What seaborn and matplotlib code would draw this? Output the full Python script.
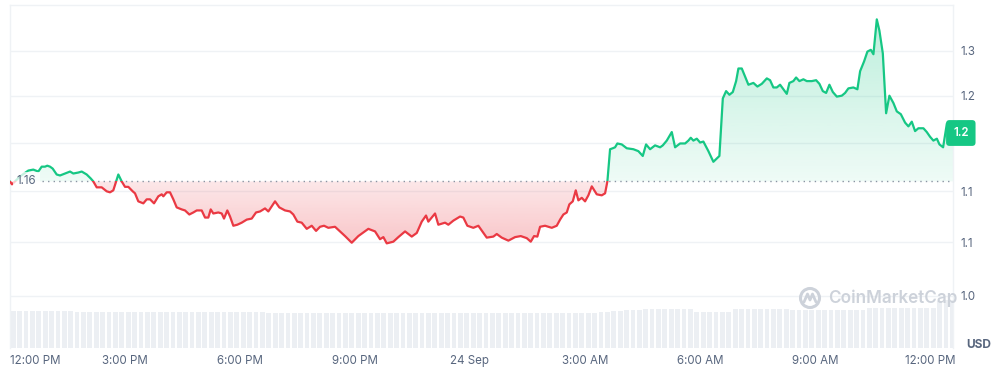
import numpy as np
import pandas as pd
import seaborn as sns
import matplotlib
matplotlib.use("Agg")
import matplotlib.pyplot as plt
from matplotlib.patches import Rectangle, Circle
from matplotlib.path import Path
from matplotlib.lines import Line2D
from matplotlib.transforms import IdentityTransform
from matplotlib.ticker import NullLocator

# ---------------- data ----------------
hours = [
    0.000, 0.052, 0.261, 0.477, 0.608, 0.738, 0.827, 0.913, 0.973, 1.044,
    1.114, 1.218, 1.305, 1.436, 1.566, 1.652, 1.782, 1.871, 2.001, 2.105,
    2.173, 2.262, 2.392, 2.523, 2.609, 2.695, 2.826, 2.914, 3.000, 3.086,
    3.201, 3.261, 3.347, 3.478, 3.566, 3.653, 3.757, 3.869, 3.958, 4.000,
    4.088, 4.174, 4.261, 4.349, 4.480, 4.566, 4.678, 4.782, 4.871, 5.001,
    5.088, 5.174, 5.236, 5.304, 5.435, 5.523, 5.583, 5.669, 5.740, 5.826,
    5.930, 6.045, 6.176, 6.306, 6.418, 6.523, 6.653, 6.739, 6.828, 6.914,
    7.026, 7.175, 7.305, 7.391, 7.496, 7.610, 7.741, 7.871, 7.984, 8.088,
    8.192, 8.304, 8.479, 8.565, 8.740, 8.915, 9.087, 9.348, 9.523, 9.653,
    9.740, 9.828, 10.000, 10.131, 10.306, 10.480, 10.611, 10.741, 10.853, 10.913,
    11.088, 11.174, 11.349, 11.435, 11.566, 11.741, 11.826, 11.931, 12.087, 12.218,
    12.437, 12.609, 12.698, 12.828, 13.001, 13.176, 13.324, 13.481, 13.585, 13.671,
    13.757, 13.828, 13.958, 14.133, 14.263, 14.350, 14.436, 14.524, 14.592, 14.681,
    14.759, 14.827, 14.916, 15.002, 15.088, 15.177, 15.307, 15.437, 15.524, 15.584,
    15.654, 15.724, 15.784, 15.844, 15.959, 16.089, 16.262, 16.392, 16.507, 16.593,
    16.698, 16.828, 16.959, 17.029, 17.133, 17.264, 17.350, 17.480, 17.611, 17.697,
    17.759, 17.827, 17.916, 18.002, 18.088, 18.219, 18.349, 18.506, 18.595, 18.681,
    18.767, 18.856, 18.942, 19.002, 19.090, 19.177, 19.263, 19.393, 19.497, 19.612,
    19.743, 19.828, 19.914, 20.003, 20.089, 20.175, 20.264, 20.332, 20.436, 20.507,
    20.593, 20.697, 20.786, 20.916, 21.029, 21.115, 21.204, 21.290, 21.376, 21.465,
    21.569, 21.699, 21.785, 21.871, 22.002, 22.106, 22.177, 22.281, 22.367, 22.456,
    22.524, 22.612, 22.680, 22.769, 22.855, 22.941, 23.046, 23.134, 23.239, 23.350,
    23.437, 23.525, 23.611, 23.697, 23.828, 23.916, 24.002, 24.088, 24.179, 24.247,
    24.342, 24.440, 24.525, 24.600,
]
prices = [
    1.1600, 1.1570, 1.1650, 1.1710, 1.1720, 1.1700, 1.1750, 1.1750, 1.1760, 1.1750,
    1.1730, 1.1670, 1.1660, 1.1680, 1.1700, 1.1680, 1.1690, 1.1700, 1.1670, 1.1630,
    1.1600, 1.1540, 1.1540, 1.1500, 1.1490, 1.1510, 1.1670, 1.1600, 1.1545, 1.1545,
    1.1500, 1.1480, 1.1400, 1.1380, 1.1420, 1.1420, 1.1380, 1.1450, 1.1470, 1.1450,
    1.1490, 1.1490, 1.1420, 1.1340, 1.1320, 1.1310, 1.1270, 1.1290, 1.1310, 1.1310,
    1.1240, 1.1240, 1.1320, 1.1280, 1.1290, 1.1280, 1.1230, 1.1310, 1.1250, 1.1160,
    1.1170, 1.1190, 1.1220, 1.1230, 1.1290, 1.1300, 1.1330, 1.1300, 1.1350, 1.1400,
    1.1340, 1.1310, 1.1300, 1.1270, 1.1200, 1.1190, 1.1130, 1.1160, 1.1110, 1.1150,
    1.1160, 1.1140, 1.1150, 1.1120, 1.1060, 1.0996, 1.1060, 1.1130, 1.1105, 1.1030,
    1.1050, 1.0990, 1.1006, 1.1050, 1.1105, 1.1055, 1.1090, 1.1200, 1.1260, 1.1200,
    1.1280, 1.1170, 1.1190, 1.1170, 1.1210, 1.1250, 1.1240, 1.1160, 1.1140, 1.1160,
    1.1045, 1.1055, 1.1080, 1.1045, 1.1016, 1.1050, 1.1060, 1.1040, 1.1006, 1.1060,
    1.1055, 1.1150, 1.1160, 1.1140, 1.1160, 1.1220, 1.1270, 1.1290, 1.1370, 1.1400,
    1.1510, 1.1410, 1.1435, 1.1400, 1.1460, 1.1550, 1.1470, 1.1460, 1.1480, 1.1600,
    1.1930, 1.1940, 1.1950, 1.1990, 1.1980, 1.1940, 1.1930, 1.1910, 1.1860, 1.1980,
    1.1930, 1.1970, 1.1950, 1.1970, 1.2020, 1.2110, 1.1950, 1.1990, 1.1990, 1.2020,
    1.2050, 1.2020, 1.2040, 1.2000, 1.2010, 1.1910, 1.1800, 1.1860, 1.2470, 1.2550,
    1.2510, 1.2540, 1.2660, 1.2800, 1.2800, 1.2710, 1.2620, 1.2640, 1.2600, 1.2630,
    1.2690, 1.2670, 1.2590, 1.2590, 1.2620, 1.2570, 1.2520, 1.2640, 1.2660, 1.2700,
    1.2660, 1.2680, 1.2660, 1.2660, 1.2670, 1.2630, 1.2550, 1.2530, 1.2620, 1.2540,
    1.2490, 1.2500, 1.2530, 1.2580, 1.2590, 1.2570, 1.2770, 1.2880, 1.2990, 1.3010,
    1.2960, 1.3360, 1.3230, 1.2970, 1.2310, 1.2500, 1.2420, 1.2330, 1.2300, 1.2210,
    1.2170, 1.2220, 1.2120, 1.2150, 1.2150, 1.2110, 1.2060, 1.2020, 1.2040, 1.1980,
    1.1950, 1.2200, 1.2140, 1.2100,
]
# 10-minute volume bars (relative units)
volumes = [
    4.00, 4.00, 4.00, 4.00, 4.00, 4.00, 4.00, 4.00, 4.00, 4.00,
    3.88, 3.88, 3.88, 3.88, 3.88, 3.88, 3.88, 3.88, 3.88, 3.88,
    3.88, 3.88, 3.88, 3.88, 3.88, 3.88, 3.88, 3.88, 3.88, 3.88,
    3.88, 3.88, 3.88, 3.88, 3.88, 3.88, 3.88, 3.88, 3.88, 3.88,
    3.78, 3.78, 3.78, 3.78, 3.78, 3.78, 3.78, 3.78, 3.78, 3.78,
    3.78, 3.78, 3.78, 3.78, 3.78, 3.78, 3.78, 3.78, 3.78, 3.78,
    3.78, 3.78, 3.78, 3.78, 3.78, 3.78, 3.78, 3.78, 3.78, 3.78,
    3.78, 3.78, 3.78, 3.78, 3.78, 3.78, 3.78, 3.78, 3.78, 3.78,
    3.78, 3.78, 3.78, 3.78, 3.78, 3.78, 3.78, 3.78, 3.78, 3.78,
    3.78, 3.80, 3.85, 3.90, 3.95, 4.00, 4.05, 4.10, 4.15, 4.18,
    4.18, 4.18, 4.18, 4.18, 4.18, 4.18, 4.18, 3.83, 3.83, 3.83,
    3.83, 3.92, 3.92, 4.18, 4.18, 4.18, 4.18, 4.18, 4.18, 4.18,
    4.18, 4.18, 4.05, 4.05, 4.05, 4.05, 4.05, 4.05, 4.05, 4.05,
    4.05, 4.05, 4.05, 4.05, 4.28, 4.28, 4.28, 4.28, 4.28, 4.28,
    4.28, 4.28, 4.28, 4.28, 4.28, 5.10, 5.15, 5.20,
]
open_price = 1.16
last_label = "1.2"
y_ticks = [1.05, 1.10, 1.15, 1.20, 1.25, 1.30]
y_tick_labels = ["1.0", "1.1", "1.1", "1.2", "1.2", "1.3"]
x_ticks = [0, 3, 6, 9, 12, 15, 18, 21, 24]
x_tick_labels = ["12:00 PM", "3:00 PM", "6:00 PM", "9:00 PM", "24 Sep",
                 "3:00 AM", "6:00 AM", "9:00 AM", "12:00 PM"]

# ---------------- style ----------------
GREEN = "#16c784"
RED = "#ea3943"
TXT = "#58667e"
GRID = "#eff2f5"
VOLC = "#eceff3"
WM = "#cdd2da"
FS = 8.3

sns.set_style("white")
plt.rcParams["font.family"] = ["Inter", "DejaVu Sans"]

W, H = 994, 371
fig = plt.figure(figsize=(W / 100, H / 100), dpi=100)
rect = [10 / W, 1 - 348 / H, 943 / W, 343 / H]
axv = fig.add_axes(rect, zorder=0)
ax = fig.add_axes(rect, zorder=1)
ax.patch.set_visible(False)

XMAX = 24.60
YLO, YHI = 1.00317, 1.35285

# ---- volume bars ----
vol_t = np.arange(len(volumes)) / 6 + 1 / 12
axv.bar(vol_t, volumes, width=0.125, color=VOLC, linewidth=0)
axv.set_ylim(0, 37)
axv.set_xlim(0, XMAX)
axv.set_yticks([])
axv.set_xticks([])
axv.xaxis.set_visible(False)
axv.yaxis.set_visible(False)
for s in axv.spines.values():
    s.set_visible(False)

# ---- price axes ----
ax.set_yscale("log")
ax.set_xlim(0, XMAX)
ax.set_ylim(YLO, YHI)
ax.set_autoscale_on(False)

df = pd.DataFrame({"hour": hours, "price": prices})
p = np.asarray(prices)
t = np.asarray(hours)


def frac(v):
    return (np.log(v) - np.log(YLO)) / (np.log(YHI) - np.log(YLO))


f_base = frac(open_price)


def gradient(rgb, fp_lo, fp_hi, a_lo, a_hi, clip_path):
    n = 400
    f = np.linspace(1, 0, n)
    a = np.interp(f, [fp_lo, fp_hi], [a_lo, a_hi])
    img = np.zeros((n, 1, 4))
    img[:, 0, 0] = rgb[0]
    img[:, 0, 1] = rgb[1]
    img[:, 0, 2] = rgb[2]
    img[:, 0, 3] = a
    im = ax.imshow(img, extent=[0, 1, 0, 1], transform=ax.transAxes,
                   aspect="auto", interpolation="bilinear", zorder=1)
    im.set_clip_path(clip_path, ax.transData)
    return im


up = ax.fill_between(t, p, open_price, where=p >= open_price, interpolate=True)
dn = ax.fill_between(t, p, open_price, where=p <= open_price, interpolate=True)
up_path = Path.make_compound_path(*up.get_paths())
dn_path = Path.make_compound_path(*dn.get_paths())
up.remove()
dn.remove()

gradient((22 / 255, 199 / 255, 132 / 255), f_base, 0.96, 0.07, 0.28, up_path)
gradient((234 / 255, 57 / 255, 67 / 255), 0.30, f_base, 0.29, 0.12, dn_path)
ax.set_xlim(0, XMAX)
ax.set_ylim(YLO, YHI)

# price line: green above open price, red below
sns.lineplot(data=df, x="hour", y="price", ax=ax, color=GREEN, linewidth=1.6,
             zorder=3, sort=False)
line_up = ax.lines[-1]
sns.lineplot(data=df, x="hour", y="price", ax=ax, color=RED, linewidth=1.6,
             zorder=3, sort=False)
line_dn = ax.lines[-1]
clip_up = Rectangle((0, open_price), 1, 1.0, transform=ax.get_yaxis_transform())
clip_dn = Rectangle((0, 0.5), 1, open_price - 0.5, transform=ax.get_yaxis_transform())
line_up.set_clip_path(clip_up)
line_dn.set_clip_path(clip_dn)

# dotted open price line
ax.axhline(open_price, xmin=0.034, xmax=1, color="#8a94a3", lw=1,
           ls=(0, (1, 3)), zorder=2)
ax.text(0.17, open_price, f"{open_price:.2f}", ha="left", va="center",
        color=TXT, fontsize=FS, zorder=5,
        bbox=dict(boxstyle="square,pad=0.3", fc="white", ec="none", alpha=0.75))

# axes decoration
ax.set_xlabel("")
ax.set_ylabel("")
ax.yaxis.tick_right()
ax.set_yticks(y_ticks)
ax.set_yticklabels(y_tick_labels)
ax.yaxis.set_minor_locator(NullLocator())
ax.set_xticks(x_ticks)
ax.set_xticklabels(x_tick_labels)
ax.tick_params(axis="y", length=0, pad=5, labelsize=FS, labelcolor=TXT)
ax.tick_params(axis="x", length=0, pad=5, labelsize=FS, labelcolor=TXT)
ax.get_xticklabels()[0].set_ha("left")
# the 1.20 label sits underneath the last-price badge, as in the reference
ax.get_yticklabels()[3].set_visible(False)
ax.grid(axis="y", color=GRID, lw=1)
ax.grid(axis="x", visible=False)
ax.set_axisbelow(True)
for name, s in ax.spines.items():
    s.set_color(GRID)
    s.set_linewidth(1)
ax.spines["bottom"].set_visible(False)
ax.set_xlim(0, XMAX)
ax.set_ylim(YLO, YHI)

# last price badge
ax.text(1.0, prices[-1], last_label, transform=ax.get_yaxis_transform(),
        ha="left", va="center", color="white", fontsize=FS, fontweight="semibold",
        clip_on=False, zorder=10,
        bbox=dict(boxstyle="round,pad=0.6,rounding_size=0.3", fc=GREEN, ec="none"))

# USD unit
fig.text(966 / W, 1 - 345 / H, "USD", ha="left", va="center", color=TXT,
         fontsize=8.6, fontweight="bold")

# watermark
fig.text(828 / W, 1 - 298 / H, "CoinMarketCap", ha="left", va="center",
         color=WM, fontsize=12.3, fontweight="semibold", zorder=6)
ring = Circle((810, H - 298), 9.5, transform=IdentityTransform(), fill=False,
              ec=WM, lw=2.2, zorder=6)
fig.add_artist(ring)
logo = Line2D([804, 807.5, 810, 812.5, 816], [H - 302, H - 294, H - 300, H - 294, H - 302],
              transform=IdentityTransform(), color=WM, lw=2.0, zorder=6)
fig.add_artist(logo)

fig.savefig("out.png", dpi=100)
